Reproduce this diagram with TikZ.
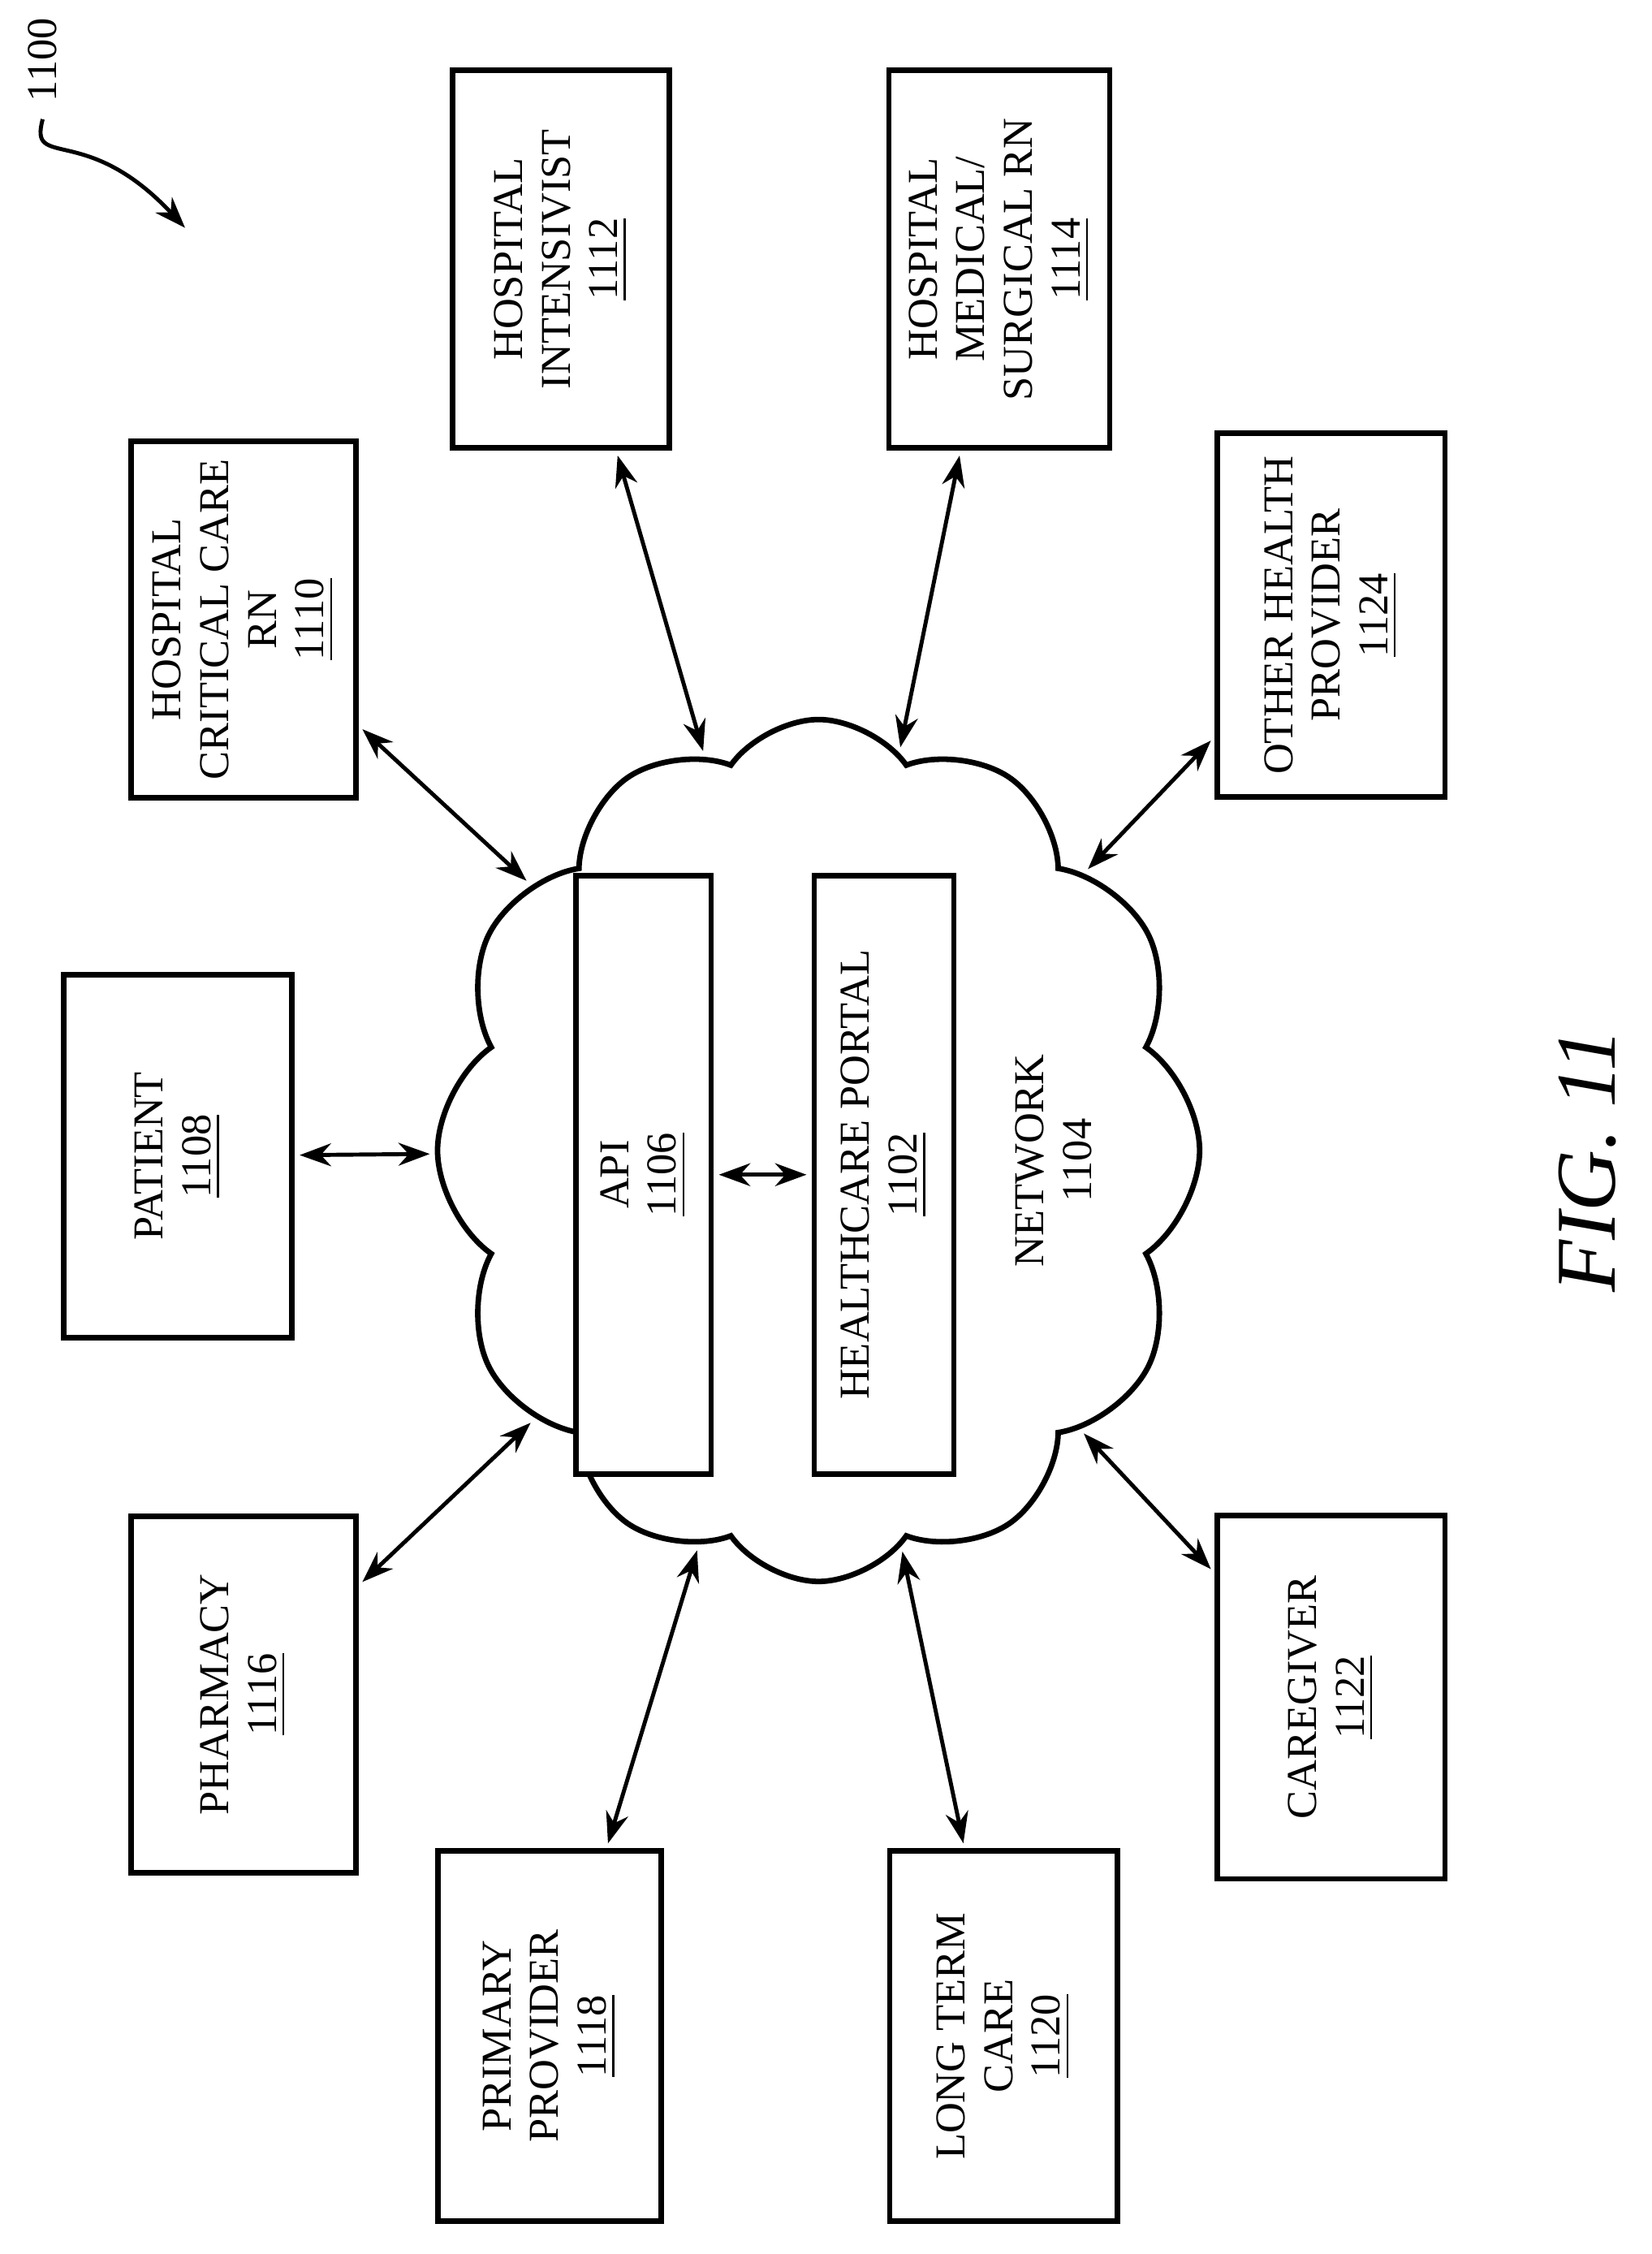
\documentclass[tikz,border=0pt]{standalone}
\usepackage{fontspec}
\setmainfont{Liberation Serif}
\usetikzlibrary{shapes.symbols, arrows.meta, positioning}

\tikzset{
    box/.style={draw, fill=white, line width=1.1pt, rotate=90, align=center, inner sep=2pt,
        font=\fontsize{8.5}{9.5}\selectfont},
    link/.style={line width=0.8pt, {Stealth[length=2.2mm,width=1.6mm]}-{Stealth[length=2.2mm,width=1.6mm]}, shorten <=1pt, shorten >=1pt}
}

\begin{document}
\begin{tikzpicture}[x=0.01cm, y=-0.01cm]
\useasboundingbox (0,0) rectangle (1160,1583);

% network cloud
\node[cloud, draw, line width=1.1pt, cloud puffs=12, cloud puff arc=110, aspect=0.9,
      shape border rotate=8, minimum width=5.35cm, minimum height=6.05cm] (net) at (575,808) {};
\node[rotate=90, align=center, font=\fontsize{8.5}{9.5}\selectfont] (netlbl) at (740,815) {NETWORK\\1104};

% inner boxes
\node[box, minimum width=4.2cm, minimum height=0.95cm] (api) at (452,825) {API\\\underline{1106}};
\node[box, minimum width=4.2cm, minimum height=0.98cm] (portal) at (621,825) {HEALTHCARE PORTAL\\\underline{1102}};

% outer boxes (width = vertical extent, height = horizontal extent)
\node[box, minimum width=2.55cm, minimum height=1.6cm] (patient) at (125,812) {PATIENT\\\underline{1108}};
\node[box, minimum width=2.5cm, minimum height=1.58cm] (ccrn) at (171,435) {HOSPITAL\\CRITICAL CARE\\RN\\\underline{1110}};
\node[box, minimum width=2.65cm, minimum height=1.52cm] (intens) at (394,182) {HOSPITAL\\INTENSIVIST\\\underline{1112}};
\node[box, minimum width=2.65cm, minimum height=1.55cm] (medsurg) at (702,182) {HOSPITAL\\MEDICAL/\\SURGICAL RN\\\underline{1114}};
\node[box, minimum width=2.55cm, minimum height=1.6cm] (other) at (935,432) {OTHER HEALTH\\PROVIDER\\\underline{1124}};
\node[box, minimum width=2.5cm, minimum height=1.58cm] (pharm) at (171,1190) {PHARMACY\\\underline{1116}};
\node[box, minimum width=2.6cm, minimum height=1.57cm] (primary) at (386,1430) {PRIMARY\\PROVIDER\\\underline{1118}};
\node[box, minimum width=2.6cm, minimum height=1.6cm] (ltc) at (705,1430) {LONG TERM\\CARE\\\underline{1120}};
\node[box, minimum width=2.55cm, minimum height=1.6cm] (care) at (935,1192) {CAREGIVER\\\underline{1122}};

% connectors
\draw[link] (api) -- (portal);
\draw[link] (patient) -- (net);
\draw[link] (ccrn) -- (net);
\draw[link] (intens) -- (net);
\draw[link] (medsurg) -- (net);
\draw[link] (other) -- (net);
\draw[link] (pharm) -- (net);
\draw[link] (primary) -- (net);
\draw[link] (ltc) -- (net);
\draw[link] (care) -- (net);

% figure label and reference numeral
\node[rotate=90, font=\fontsize{17}{20}\selectfont\itshape] (fig) at (1115,815) {FIG. 11};
\node[rotate=90, font=\fontsize{8.5}{9.5}\selectfont] (num) at (30,42) {1100};
\coordinate (tip) at (130,160);
\draw[line width=0.8pt, -{Stealth[length=2.2mm,width=1.6mm]}] (num.west) .. controls (20,120) and (60,85) .. (tip);
\end{tikzpicture}
\end{document}
